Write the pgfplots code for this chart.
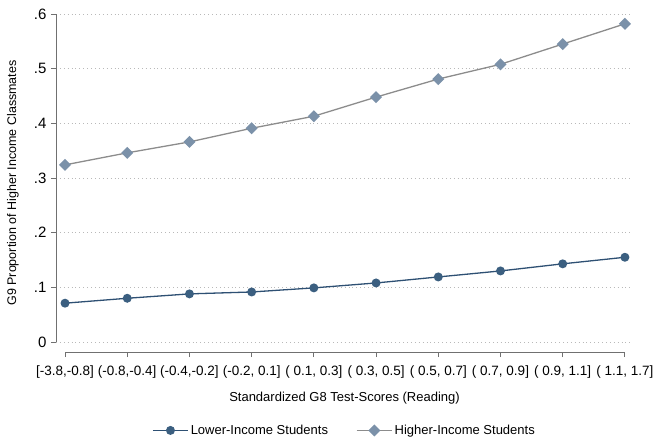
\documentclass[border=0pt]{standalone}
\usepackage{pgfplots}
\pgfplotsset{compat=1.18}
\usepackage{fontspec}
\setmainfont{Liberation Sans}
\definecolor{lowline}{HTML}{2E5073}
\definecolor{lowmark}{HTML}{3B5F80}
\definecolor{highline}{HTML}{8C8C8C}
\definecolor{highmark}{HTML}{7B91A9}
\definecolor{axgrey}{HTML}{707070}
\begin{document}
\begin{tikzpicture}
\begin{axis}[
  scale only axis,
  width=577pt, height=338pt,
  xmin=-0.145, xmax=9.13,
  ymin=-0.0183, ymax=0.6,
  axis line style={draw=none},
  xtick={0,...,9},
  xticklabels={{[-3.8,-0.8]},{(-0.8,-0.4]},{(-0.4,-0.2]},{(-0.2, 0.1]},{( 0.1, 0.3]},{( 0.3, 0.5]},{( 0.5, 0.7]},{( 0.7, 0.9]},{( 0.9, 1.1]},{( 1.1, 1.7]}},
  ytick={0,0.1,0.2,0.3,0.4,0.5,0.6},
  yticklabels={0,.1,.2,.3,.4,.5,.6},
  xtick pos=bottom, ytick pos=left,
  tick align=outside,
  major tick length=5pt,
  tick style={axgrey, line width=0.9pt},
  ymajorgrids,
  grid style={dash pattern=on 0.9pt off 3pt, gray!55, line width=0.8pt},
  x tick label style={font=\fontsize{13.5}{15}\selectfont, yshift=-5pt},
  y tick label style={font=\fontsize{15}{17}\selectfont, xshift=-1pt},
  xlabel={Standardized G8 Test-Scores (Reading)},
  ylabel={G9 Proportion of Higher Income Classmates},
  xlabel style={font=\fontsize{13}{15}\selectfont, at={(axis description cs:0.5,-0.136)}, anchor=center},
  ylabel style={font=\fontsize{12.5}{14}\selectfont, at={(axis description cs:-0.0745,0.5)}, anchor=center},
  legend columns=2,
  legend style={draw=none, at={(0.5,-0.232)}, anchor=center, font=\fontsize{13}{15}\selectfont,
    /tikz/every even column/.append style={column sep=26pt}},
  legend image code/.code={
    \draw[mark repeat=2,mark phase=2,#1] plot coordinates {(0cm,0cm) (0.62cm,0cm) (1.24cm,0cm)};},
  clip=false,
]
\addplot[lowline, line width=1.3pt, mark=*, mark size=3.8pt, mark options={fill=lowmark, draw=lowmark}]
  coordinates {(0,0.071) (1,0.080) (2,0.088) (3,0.0915) (4,0.099) (5,0.108) (6,0.119) (7,0.130) (8,0.143) (9,0.155)};
\addlegendentry{Lower-Income Students}
\addplot[highline, line width=1.3pt, mark=square*, mark size=3.6pt, mark options={fill=highmark, draw=highmark, rotate=45}]
  coordinates {(0,0.324) (1,0.346) (2,0.366) (3,0.391) (4,0.413) (5,0.448) (6,0.481) (7,0.508) (8,0.545) (9,0.582)};
\addlegendentry{Higher-Income Students}
\draw[axgrey, line width=0.9pt] (axis cs:-0.145,0) -- (axis cs:-0.145,0.6);
\draw[axgrey, line width=0.9pt] (axis cs:0,-0.0183) -- (axis cs:9,-0.0183);
\end{axis}
\pgfresetboundingbox
\path (-56pt,-90pt) rectangle (599pt,352pt);
\end{tikzpicture}
\end{document}
